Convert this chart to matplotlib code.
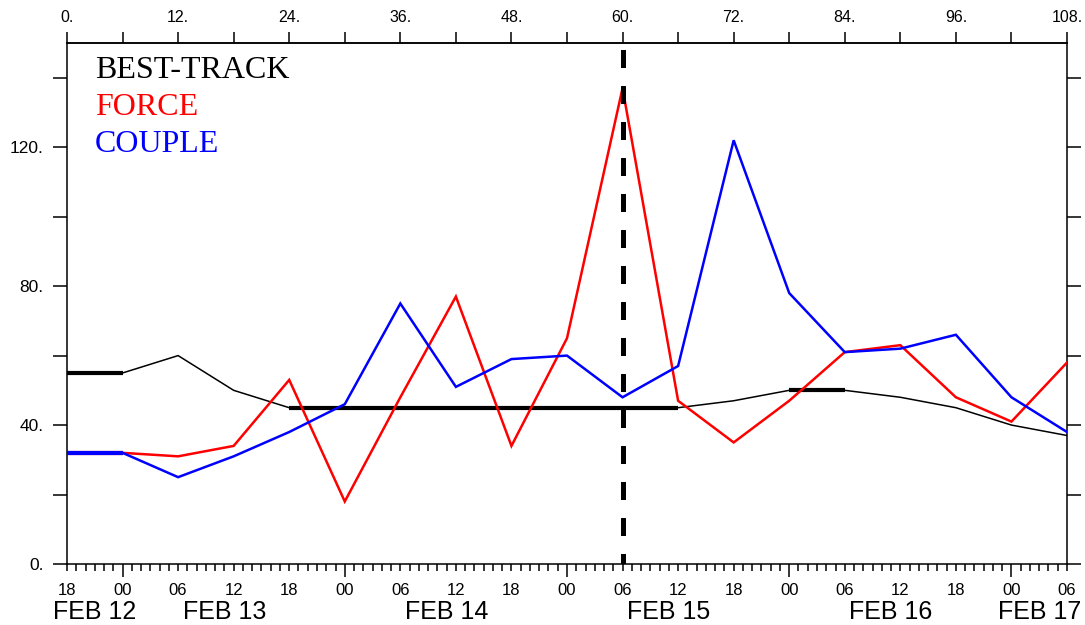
import numpy as np
import matplotlib
matplotlib.use('Agg')
import matplotlib.pyplot as plt
import matplotlib.transforms as mtransforms
from matplotlib.ticker import FixedLocator, MultipleLocator, FuncFormatter

# forecast hours (every 6 h) and the three intensity series
hours = np.arange(0, 109, 6)
best_track = [55, 55, 60, 50, 45, 45, 45, 45, 45, 45, 45, 45, 47, 50, 50, 48, 45, 40, 37]
force = [32, 32, 31, 34, 53, 18, 48, 77, 34, 65, 137, 47, 35, 47, 61, 63, 48, 41, 58]
couple = [32, 32, 25, 31, 38, 46, 75, 51, 59, 60, 48, 57, 122, 78, 61, 62, 66, 48, 38]

hour_labels = ['18', '00', '06', '12', '18', '00', '06', '12', '18', '00',
               '06', '12', '18', '00', '06', '12', '18', '00', '06']
day_labels = ['FEB 12', 'FEB 13', 'FEB 14', 'FEB 15', 'FEB 16', 'FEB 17']
forecast_start = 60

series = [('BEST-TRACK', best_track, 'black', 1.1),
          ('FORCE', force, 'red', 1.8),
          ('COUPLE', couple, 'blue', 1.8)]

plt.rcParams['font.family'] = ['Liberation Sans', 'DejaVu Sans']

fig = plt.figure(figsize=(10.85, 6.25), dpi=100)
ax = fig.add_axes([67 / 1085, 1 - 564 / 625, 1000 / 1085, 521 / 625])

for name, vals, col, lw in series:
    vals = np.asarray(vals)
    ax.plot(hours, vals, color=col, lw=lw, solid_joinstyle='miter', zorder=3)
    # flat stretches come out thicker in the original plot
    for i in range(len(vals) - 1):
        if vals[i] == vals[i + 1]:
            ax.plot(hours[i:i + 2], vals[i:i + 2], color=col, lw=3.0,
                    solid_capstyle='butt', zorder=3)

ax.axvline(forecast_start, color='black', lw=3.6, linestyle=(1.5, (3.6, 3.6)), zorder=5)

ax.set_xlim(0, 108)
ax.set_ylim(0, 150)

# bottom axis: hour labels, minor ticks each hour, longer ticks at 00
ax.xaxis.set_major_locator(FixedLocator(hours))
ax.set_xticklabels(hour_labels)
ax.xaxis.set_minor_locator(MultipleLocator(1))
ax.tick_params(axis='x', which='major', direction='out', length=5, width=1.1,
               pad=9, labelsize=12)
ax.tick_params(axis='x', which='minor', direction='out', length=5, width=1.1)
for t, lab in zip(ax.xaxis.get_major_ticks(), hour_labels):
    if lab == '00':
        t.tick1line.set_markersize(9)

# y axis, labelled every 40
ax.yaxis.set_major_locator(MultipleLocator(20))
ax.yaxis.set_major_formatter(FuncFormatter(lambda v, p: f'{v:.0f}.' if v % 40 == 0 else ''))
ax.tick_params(axis='y', which='major', direction='out', left=True, right=True,
               length=10, width=1.1, pad=7, labelsize=12.5)

# top axis in forecast hours
sec = ax.secondary_xaxis('top')
sec.set_xticks(hours)
sec.set_xticklabels([f'{h}.' if h % 12 == 0 else '' for h in hours])
sec.tick_params(direction='out', length=8, width=1.1, pad=5, labelsize=11.5)
sec.spines['top'].set_linewidth(1.1)

for sp in ax.spines.values():
    sp.set_linewidth(1.1)

# date labels centred under each day
bounds = [0, 6, 30, 54, 78, 102, 108]
trans = mtransforms.blended_transform_factory(ax.transData, fig.transFigure)
for lab, a, b in zip(day_labels, bounds[:-1], bounds[1:]):
    mid = (a + b) / 2.0
    if 0 < a and b < 108:
        mid -= 1
    ax.text(mid, 1 - 612 / 625, lab, transform=trans, ha='center', va='center',
            fontsize=18, clip_on=False)

# legend as coloured text
for i, (name, vals, col, lw) in enumerate(series):
    fig.text(95 / 1085, 1 - (78 + 37 * i) / 625, name, color=col, fontsize=23,
             family='Liberation Serif', va='baseline')

fig.savefig('out.png', dpi=100)
